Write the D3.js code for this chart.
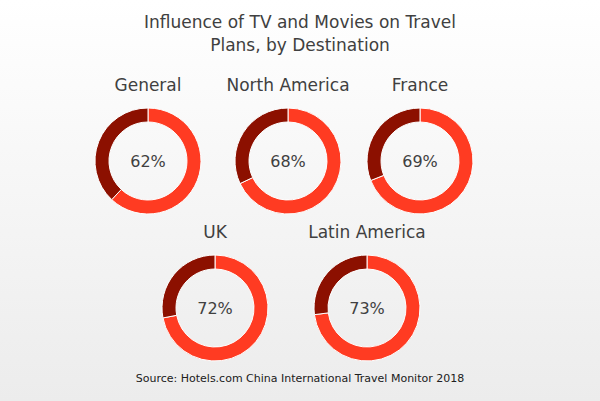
<!DOCTYPE html>
<html><head><meta charset="utf-8">
<script src="https://cdn.jsdelivr.net/npm/d3@7"></script>
<style>body{margin:0;background:#fff}</style>
</head><body>
<svg width="600" height="401"></svg>
<script>
const regions = ["General", "North America", "France", "UK", "Latin America"];
const shares = [62, 68, 69, 72, 73];
const titleLines = ["Influence of TV and Movies on Travel", "Plans, by Destination"];
const source = "Source: Hotels.com China International Travel Monitor 2018";

const svg = d3.select("svg");
const font = "'DejaVu Sans', sans-serif";

const grad = svg.append("defs").append("linearGradient").attr("id", "bg")
  .attr("x1", 0).attr("y1", 0).attr("x2", 0).attr("y2", 1);
grad.append("stop").attr("offset", 0).attr("stop-color", "#ffffff");
grad.append("stop").attr("offset", 1).attr("stop-color", "#ececec");
svg.append("rect").attr("width", 600).attr("height", 401).attr("fill", "url(#bg)");

svg.selectAll(".title").data(titleLines).join("text")
  .attr("x", 300).attr("y", (d, i) => 28 + i * 23)
  .attr("text-anchor", "middle").attr("font-family", font)
  .attr("font-size", 17).attr("fill", "#404040").text(d => d);

// positions of each donut (layout only)
const centers = [[148, 161], [288, 161], [420, 161], [215, 308], [367, 308]];
const arc = d3.arc().innerRadius(39).outerRadius(53);
const pie = d3.pie().sort(null).value(d => d);

regions.forEach((name, i) => {
  const g = svg.append("g").attr("transform", `translate(${centers[i]})`);
  g.selectAll("path").data(pie([shares[i], 100 - shares[i]])).join("path")
    .attr("d", arc)
    .attr("fill", (d, j) => j === 0 ? "#ff3b22" : "#8c1000")
    .attr("stroke", "#fff").attr("stroke-width", 1);
  g.append("text").attr("y", 6).attr("text-anchor", "middle")
    .attr("font-family", font).attr("font-size", 16).attr("fill", "#404040")
    .text(shares[i] + "%");
  g.append("text").attr("y", -70).attr("text-anchor", "middle")
    .attr("font-family", font).attr("font-size", 17).attr("fill", "#404040")
    .text(name);
});

svg.append("text").attr("x", 300).attr("y", 382).attr("text-anchor", "middle")
  .attr("font-family", font).attr("font-size", 11).attr("fill", "#202020")
  .text(source);
</script>
</body></html>
